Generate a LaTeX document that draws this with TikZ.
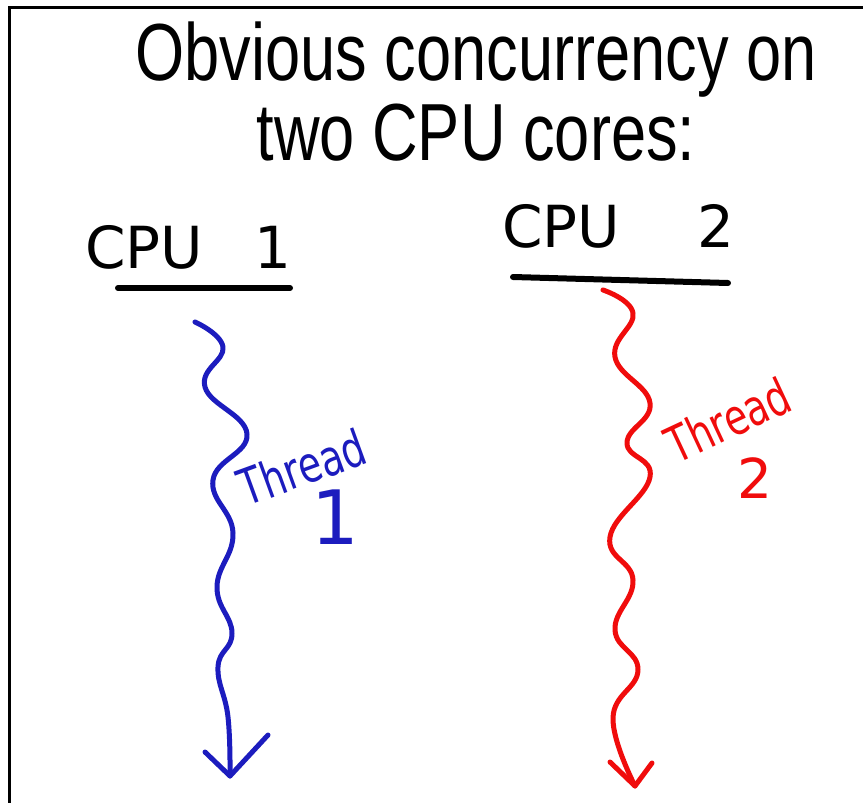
\documentclass[tikz,border=0pt]{standalone}
\usepackage{fontspec}
\setmainfont{Liberation Sans}
\newfontfamily\handfont{DejaVu Sans}
\definecolor{handblue}{RGB}{28,28,190}
\definecolor{handred}{RGB}{240,12,12}
\begin{document}
\begin{tikzpicture}[x=1pt,y=-1pt,
  titletext/.style={anchor=base,inner sep=0pt,font=\fontsize{81}{97}\selectfont},
  cpulabel/.style={anchor=base west,inner sep=0pt,font=\handfont\fontsize{58}{60}\selectfont},
  threadlabel/.style={inner sep=0pt,font=\handfont\fontsize{50}{52}\selectfont},
  uline/.style={line width=6pt,line cap=round},
  wave/.style={line width=5pt,line cap=round,line join=round},
  frame/.style={line width=3pt}]
\useasboundingbox (0,0) rectangle (863,803);
\fill[white] (0,0) rectangle (863,803);
% frame (top and left edges visible)
\draw[frame] (9,803) -- (9,7) -- (863,7);

% title
\node[titletext] (title1) at (476,80) {\scalebox{0.78}[1]{Obvious concurrency on}};
\node[titletext] (title2) at (476,160) {\scalebox{0.78}[1]{two CPU cores:}};

% CPU labels
\node[cpulabel] (cpu1) at (85,268) {CPU\hspace{51pt}1};
\node[cpulabel] (cpu2) at (502,247) {CPU\hspace{77pt}2};
\coordinate (u1a) at (118,288); \coordinate (u1b) at (290,288);
\coordinate (u2a) at (513,277); \coordinate (u2b) at (728,283);
\draw[uline] (u1a) -- (u1b);
\draw[uline] (u2a) -- (u2b);

% thread 1 (blue)
\coordinate (s1) at (195,322);
\coordinate (e1) at (230,776);
\draw[wave,handblue] plot[smooth,tension=0.75] coordinates {(195,322) (223,347) (205,387) (247,434) (213,480) (233,533) (217,587) (232,633) (218,667) (228,717) (230,776)};
\coordinate (h1l) at (205,752); \coordinate (h1r) at (268,735);
\draw[wave,handblue] (h1l) -- (e1) -- (h1r);
\node[threadlabel,text=handblue,rotate=20] (th1) at (302,467) {\scalebox{0.75}[1]{Thread}};
\node[threadlabel,text=handblue,font=\handfont\fontsize{75}{77}\selectfont] (n1) at (335,517) {1};

% thread 2 (red)
\coordinate (s2) at (603,290);
\coordinate (e2) at (635,786);
\draw[wave,handred] plot[smooth,tension=0.75] coordinates {(603,290) (633,313) (615,357) (650,403) (627,443) (650,477) (610,537) (633,580) (615,630) (638,670) (613,718) (635,786)};
\coordinate (h2l) at (610,762); \coordinate (h2r) at (652,763);
\draw[wave,handred] (h2l) -- (e2) -- (h2r);
\node[threadlabel,text=handred,rotate=25] (th2) at (728,420) {\scalebox{0.75}[1]{Thread}};
\node[threadlabel,text=handred,font=\handfont\fontsize{55}{57}\selectfont] (n2) at (755,478) {2};
\end{tikzpicture}
\end{document}
